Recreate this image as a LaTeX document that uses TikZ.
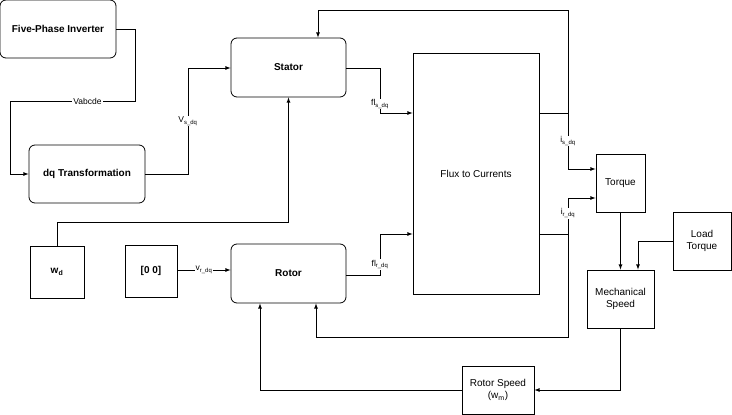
\documentclass[tikz,border=0pt]{standalone}
\usepackage{fontspec}
\setmainfont{Liberation Sans}
\usetikzlibrary{positioning}
\tikzset{
    blk/.style={draw, thick, inner sep=0pt, align=center, font=\fontsize{10}{12}\selectfont},
    rblk/.style={blk, rounded corners=6pt, font=\bfseries\fontsize{10}{12}\selectfont},
    lbl/.style={fill=white, inner sep=1pt, font=\fontsize{8.5}{10}\selectfont},
    con/.style={thick, -latex}
}
\begin{document}
\begin{tikzpicture}[x=1pt, y=-1pt]

    \useasboundingbox (0,0) rectangle (732,415);

    % blocks
    \node[rblk, minimum width=116pt, minimum height=58pt] (inv) at (58,29) {Five-Phase Inverter};
    \node[rblk, minimum width=116pt, minimum height=58pt] (dqt) at (87,174) {dq Transformation};
    \node[rblk, minimum width=115pt, minimum height=59pt] (stator) at (288.5,67.5) {Stator};
    \node[rblk, minimum width=115pt, minimum height=59pt] (rotor) at (288.5,273.5) {Rotor};
    \node[blk, minimum width=126pt, minimum height=241pt] (flux) at (476,173.5) {Flux to Currents};
    \node[blk, minimum width=49pt, minimum height=58pt] (torque) at (620.5,183) {Torque};
    \node[blk, minimum width=58pt, minimum height=58pt] (load) at (702,241) {Load\\Torque};
    \node[blk, minimum width=67pt, minimum height=58pt] (mech) at (620.5,299) {Mechanical\\Speed};
    \node[blk, minimum width=72pt, minimum height=48pt] (rspeed) at (498,390) {Rotor Speed\\(w\textsubscript{m})};
    \node[blk, minimum width=54pt, minimum height=52pt, font=\bfseries\fontsize{10}{12}\selectfont] (wd) at (57,272) {w\textsubscript{d}};
    \node[blk, minimum width=52pt, minimum height=52pt, font=\bfseries\fontsize{10}{12}\selectfont] (zero) at (151,271) {[0 0]};

    \coordinate (isj) at (568,113);
    \coordinate (irj) at (568,234);

    % connectors
    \draw[con] (inv.east) -- (135,29) -- (135,101) -- node[lbl, pos=0.38] {Vabcde} (10,101) |- (dqt.west);
    \draw[con] (dqt.east) -- (188,174) -- node[lbl, pos=0.5] {V\textsubscript{s\_dq}} (188,68) -- (stator.west |- 0,68);
    \draw[con] (stator.east |- 0,68) -- (380,68) -- node[lbl, pos=0.8] {fl\textsubscript{s\_dq}} (380,113) -- (flux.west |- 0,113);
    \draw[con] (rotor.east |- 0,275) -- (380,275) -- node[lbl, pos=0.25] {fl\textsubscript{r\_dq}} (380,234) -- (flux.west |- 0,234);
    \draw[con] (flux.east |- isj) -- (isj) -- node[lbl, pos=0.5] {i\textsubscript{s\_dq}} (568,169) -- (torque.west |- 0,169);
    \draw[con] (flux.east |- irj) -- (irj) -- node[lbl, pos=0.58] {i\textsubscript{r\_dq}} (568,198) -- (torque.west |- 0,198);
    \draw[con] (isj) -- (568,10) -| (stator.north -| 318,0);
    \draw[con] (irj) -- (568,337) -| (rotor.south -| 316,0);
    \draw[con] (wd.north) -- (57,222) -| (stator.south);
    \draw[con] (zero.east |- 0,270) -- node[lbl] {v\textsubscript{r\_dq}} (rotor.west |- 0,270);
    \draw[con] (torque.south) -- (mech.north);
    \draw[con] (load.west) -| (mech.north -| 638,0);
    \draw[con] (mech.south) |- (rspeed.east);
    \draw[con] (rspeed.west) -| (rotor.south -| 260,0);

\end{tikzpicture}
\end{document}
